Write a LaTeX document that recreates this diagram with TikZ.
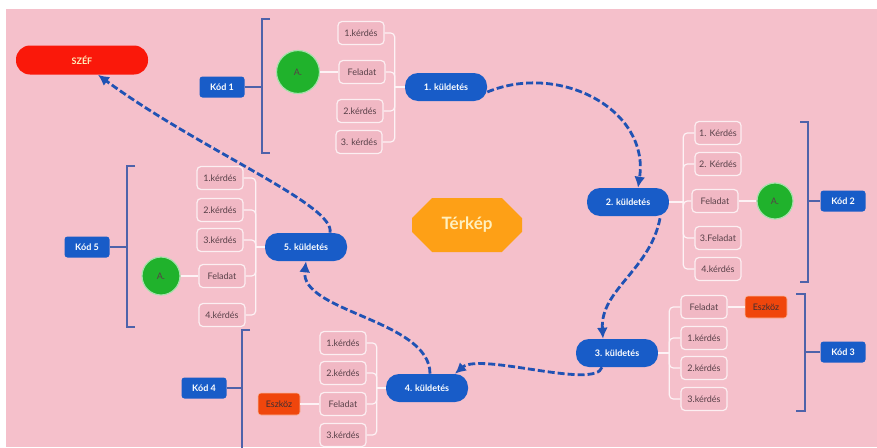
\documentclass[tikz,border=0pt]{standalone}
\usepackage{fontspec}
\setmainfont{Lato}
\usetikzlibrary{positioning,shapes.misc,arrows.meta}
\definecolor{bgpink}{RGB}{245,192,203}
\definecolor{boxpink}{RGB}{241,184,196}
\definecolor{missionblue}{RGB}{24,92,200}
\definecolor{arrowblue}{RGB}{32,82,180}
\definecolor{bracketblue}{RGB}{78,98,170}
\definecolor{leafgreen}{RGB}{32,178,44}
\definecolor{safered}{RGB}{250,24,10}
\definecolor{toolred}{RGB}{240,70,12}
\definecolor{maporange}{RGB}{254,160,22}
\definecolor{paleyellow}{RGB}{255,240,190}
\definecolor{textgray}{RGB}{88,64,72}

\begin{document}
\begin{tikzpicture}[x=1pt,y=-1pt,on grid,semithick,
font=\fontsize{9}{10}\selectfont,
mission/.style={rounded corners=13pt,fill=missionblue,text=white,
  font=\fontsize{9}{10}\selectfont\bfseries,minimum width=82pt,minimum height=28pt},
qbox/.style={rounded corners=4pt,fill=boxpink,draw=white!75!bgpink,line width=1.2pt,
  text=textgray,minimum width=46pt,minimum height=23pt,inner xsep=4pt},
kod/.style={rounded corners=3pt,fill=missionblue,text=white,
  font=\fontsize{9}{10}\selectfont\bfseries,minimum width=45pt,minimum height=21pt},
answer/.style={circle,fill=leafgreen,draw=white!60!leafgreen,line width=1.2pt,
  text=textgray},
tool/.style={rounded corners=3pt,fill=toolred,draw=white!60!toolred,text=textgray!70!black,
  minimum width=42pt,minimum height=22pt},
branch/.style={draw=white!80!bgpink,line width=1.2pt,rounded corners=4pt},
brk/.style={draw=bracketblue,line width=1.6pt},
trail/.style={draw=arrowblue,line width=2.8pt,dash pattern=on 7pt off 3pt,
  -{Latex[length=11pt,width=11pt]}}]

\useasboundingbox (0,0) rectangle (877,447);
\fill[bgpink] (6,9) rectangle (877,447);

% safe and map title
\node[rounded corners=14pt,fill=safered,text=paleyellow,minimum width=132pt,
  minimum height=29pt,font=\fontsize{9}{10}\selectfont\bfseries] (safe) at (82,60) {SZÉF};
\node[chamfered rectangle,chamfered rectangle xsep=13pt,chamfered rectangle ysep=9pt,
  fill=maporange,text=paleyellow,minimum width=110pt,minimum height=54pt,
  font=\fontsize{17}{19}\selectfont\bfseries] (map) at (467,225) {Térkép};

% 1. küldetés
\node[mission] (m1) at (446,87) {1. küldetés};
\node[qbox] (q11) at (361,33) {1.kérdés};
\node[qbox] (f1) at (362,72) {Feladat};
\node[qbox] (q12) at (360,111) {2.kérdés};
\node[qbox] (q13) at (359,142) {3. kérdés};
\node[answer,minimum size=43pt] (a1) [left=64pt of f1] {A.};
\node[kod] (kod1) at (222,87) {Kód 1};
\draw[branch] (m1.west) -- ++(-10,0) coordinate (t1);
\foreach \b in {q11,f1,q12,q13} \draw[branch] (\b.east) -| (t1);
\draw[branch] (a1) -- (f1);
\coordinate (b1t) at (262,19);
\coordinate (b1b) at (262,153);
\draw[brk] ([xshift=8]b1t) -- (b1t) -- (b1b) -- ([xshift=8]b1b);
\draw[brk] (kod1.east) -- (b1t |- kod1);

% 2. küldetés
\node[mission] (m2) at (628,202) {2. küldetés};
\node[qbox] (q21) at (718,133) {1. Kérdés};
\node[qbox] (q22) at (718,164) {2. Kérdés};
\node[qbox] (f2) at (715,201) {Feladat};
\node[qbox] (q23) at (718,238) {3.Feladat};
\node[qbox] (q24) at (718,269) {4.kérdés};
\node[answer,minimum size=36pt] (a2) [right=60pt of f2] {A.};
\node[kod] (kod2) at (843,201) {Kód 2};
\draw[branch] (m2.east) -- ++(14,0) coordinate (t2);
\foreach \b in {q21,q22,f2,q23,q24} \draw[branch] (\b.west) -| (t2);
\draw[branch] (f2) -- (a2);
\coordinate (b2t) at (808,122);
\coordinate (b2b) at (808,282);
\draw[brk] ([xshift=-8]b2t) -- (b2t) -- (b2b) -- ([xshift=-8]b2b);
\draw[brk] (kod2.west) -- (b2t |- kod2);

% 3. küldetés
\node[mission] (m3) at (617,353) {3. küldetés};
\node[qbox] (f3) at (704,307) {Feladat};
\node[qbox] (q31) at (704,338) {1.kérdés};
\node[qbox] (q32) at (704,368) {2.kérdés};
\node[qbox] (q33) at (704,399) {3.kérdés};
\node[tool] (tool3) [right=62pt of f3] {Eszköz};
\node[kod] (kod3) at (843,352) {Kód 3};
\draw[branch] (m3.east) -- ++(11,0) coordinate (t3);
\foreach \b in {f3,q31,q32,q33} \draw[branch] (\b.west) -| (t3);
\draw[branch] (f3) -- (tool3);
\coordinate (b3t) at (805,294);
\coordinate (b3b) at (805,411);
\draw[brk] ([xshift=-9]b3t) -- (b3t) -- (b3b) -- ([xshift=-9]b3b);
\draw[brk] (kod3.west) -- (b3t |- kod3);

% 4. küldetés
\node[mission] (m4) at (427,388) {4. küldetés};
\node[qbox] (q41) at (343,343) {1.kérdés};
\node[qbox] (q42) at (343,373) {2.kérdés};
\node[qbox] (f4) at (343,404) {Feladat};
\node[qbox] (q43) at (343,435) {3.kérdés};
\node[tool] (tool4) [left=64pt of f4] {Eszköz};
\node[kod] (kod4) at (204,388) {Kód 4};
\draw[branch] (m4.west) -- ++(-9,0) coordinate (t4);
\foreach \b in {q41,q42,f4,q43} \draw[branch] (\b.east) -| (t4);
\draw[branch] (tool4) -- (f4);
\coordinate (b4t) at (242,330);
\coordinate (b4b) at (242,460);
\draw[brk] ([xshift=8]b4t) -- (b4t) -- (b4b);
\draw[brk] (kod4.east) -- (b4t |- kod4);

% 5. küldetés
\node[mission] (m5) at (306,247) {5. küldetés};
\node[qbox] (q51) at (220,178) {1.kérdés};
\node[qbox] (q52) at (220,210) {2.kérdés};
\node[qbox] (q53) at (220,240) {3.kérdés};
\node[qbox] (f5) at (222,276) {Feladat};
\node[qbox] (q54) at (222,315) {4.kérdés};
\node[answer,minimum size=38pt] (a5) [left=61pt of f5] {A.};
\node[kod] (kod5) at (87,247) {Kód 5};
\draw[branch] (m5.west) -- ++(-9,0) coordinate (t5);
\foreach \b in {q51,q52,q53,f5,q54} \draw[branch] (\b.east) -| (t5);
\draw[branch] (a5) -- (f5);
\coordinate (b5t) at (127,166);
\coordinate (b5b) at (127,327);
\draw[brk] ([xshift=8]b5t) -- (b5t) -- (b5b) -- ([xshift=8]b5b);
\draw[brk] (kod5.east) -- (b5t |- kod5);

% trail between missions
\draw[trail] ([yshift=-5]m1.east) .. controls (560,62) and (650,110) .. ([xshift=10]m2.north);
\draw[trail] ([xshift=32,yshift=-2]m2.south) .. controls (650,270) and (600,290) .. ([xshift=-14]m3.north);
\draw[trail] ([xshift=-15]m3.south) .. controls (595,390) and (480,352) .. ([xshift=28]m4.north);
\draw[trail] ([xshift=3]m4.north) .. controls (430,320) and (300,312) .. (m5.south);
\draw[trail] ([xshift=24]m5.north) .. controls (336,205) and (200,150) .. ([xshift=16]safe.south);
\end{tikzpicture}
\end{document}
